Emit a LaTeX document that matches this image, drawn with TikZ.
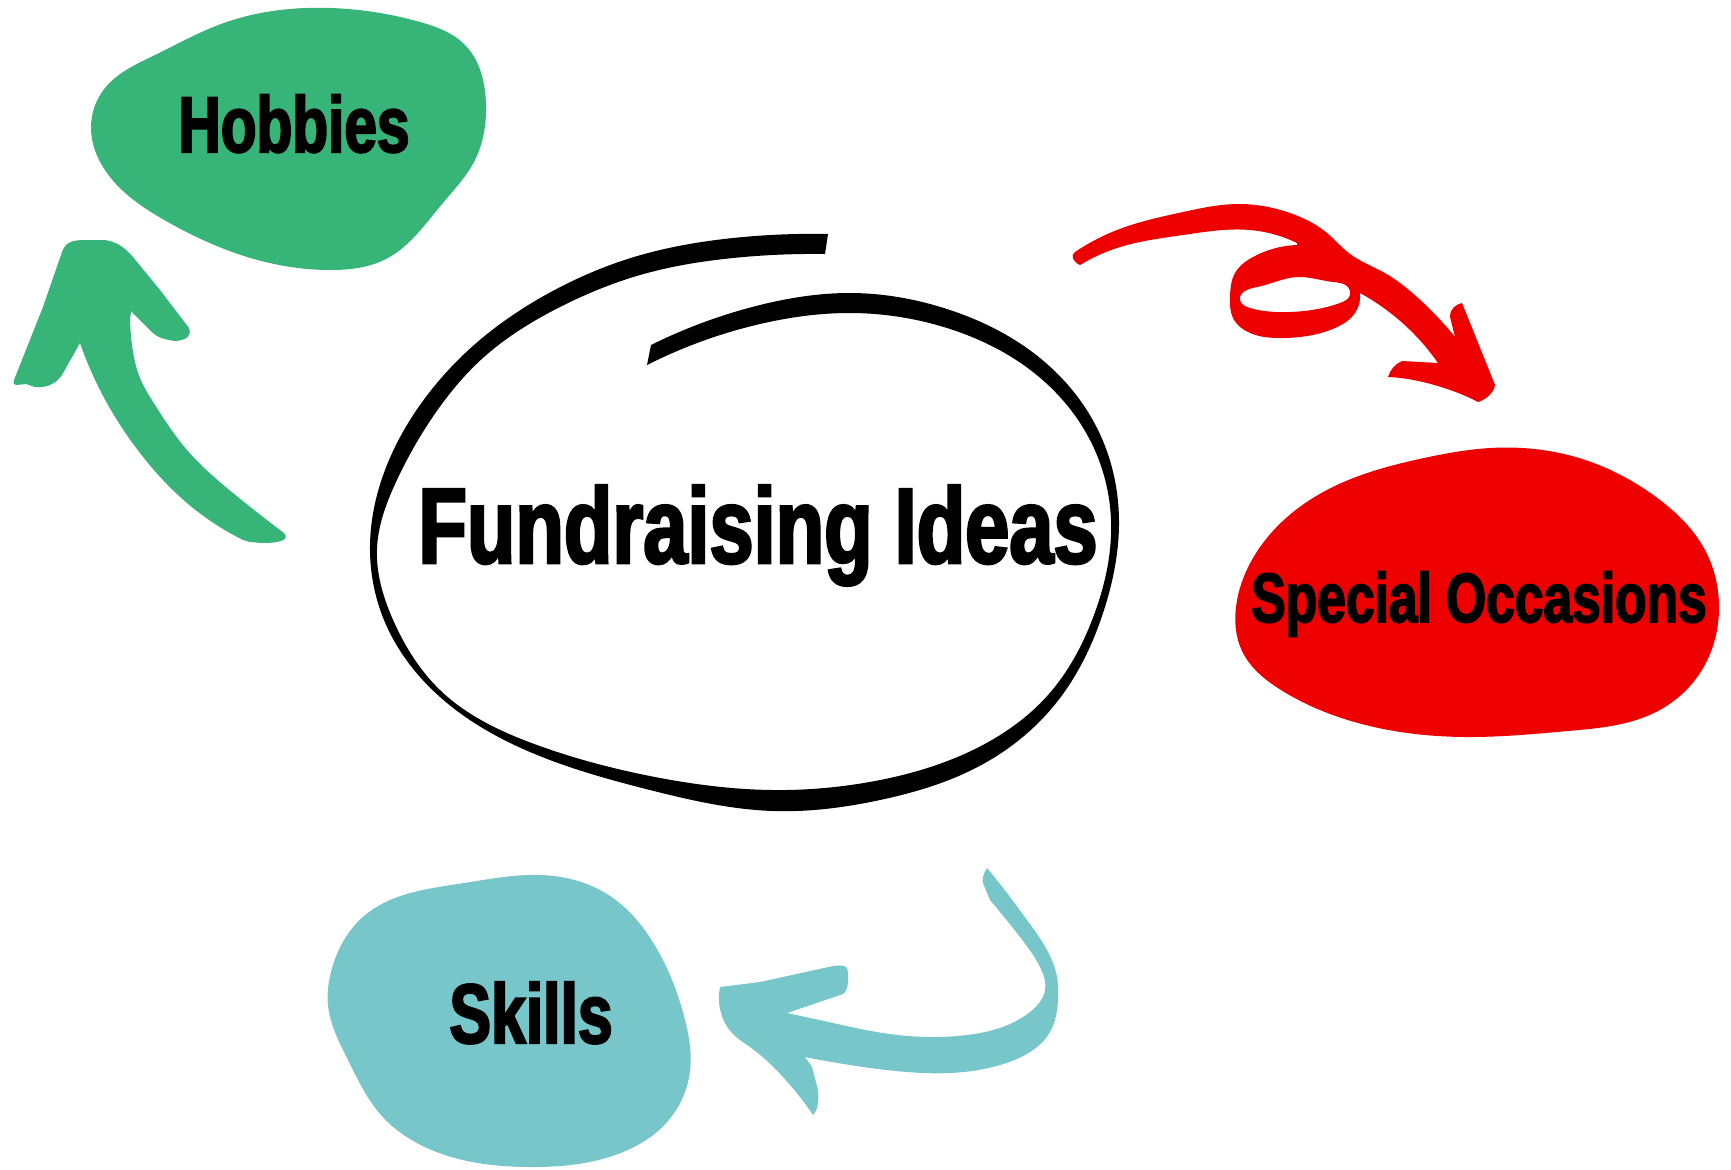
\documentclass[tikz,border=0pt]{standalone}
\usepackage{fontspec}
\usetikzlibrary{hobby}
\newfontfamily\blobfont[FakeStretch=0.74, FakeBold=2.5]{Liberation Sans}
\definecolor{hobbygreen}{RGB}{55,180,120}
\definecolor{occasionred}{RGB}{238,0,0}
\definecolor{skillteal}{RGB}{118,198,202}
\tikzset{blobtext/.style={anchor=base, inner sep=0pt, font=\blobfont\bfseries}}

\begin{document}
\begin{tikzpicture}[x=0.01cm, y=-0.01cm]
      \useasboundingbox (0,0) rectangle (1731,1169);
      % blobs
      \fill[hobbygreen] plot[closed hobby] coordinates {(331,8) (420,22) (464,44) (486,105) (475,160) (442,204) (386,259) (331,270) (254,259) (166,221) (110,177) (91,127) (105,88) (155,55) (221,24)};
      \fill[occasionred] plot[closed hobby] coordinates {(1325,491) (1424,458) (1490,448) (1579,458) (1656,497) (1706,552) (1719,607) (1700,673) (1656,712) (1568,731) (1468,737) (1358,723) (1281,690) (1242,651) (1236,607) (1253,558)};
      \fill[skillteal] plot[closed hobby] coordinates {(364,916) (464,883) (541,875) (607,894) (657,949) (684,1016) (690,1071) (668,1121) (618,1154) (530,1167) (442,1154) (381,1115) (348,1060) (328,1005) (331,972)};
      % hand drawn ring
      \fill[black] plot[hobby] coordinates {(651,345) (760,305) (850,293) (950,310) (1040,358) (1098,430) (1119,520) (1104,610) (1060,698) (985,763) (880,800) (773,811) (650,790) (530,752) (440,697) (384,620) (370,545) (385,470) (420,405) (474,345) (549,293) (634,257) (733,238) (828,234)}
        -- plot[hobby] coordinates {(825,254) (733,258) (640,275) (560,307) (484,357) (432,418) (396,482) (377,548) (394,622) (440,690) (537,745) (655,777) (773,790) (875,781) (975,749) (1048,695) (1094,615) (1111,520) (1090,440) (1033,372) (947,328) (850,313) (760,324) (647,365)} -- cycle;
      % arrows
      \fill[hobbygreen] (62,252) .. controls (66,240) and (75,240) .. (90,240) -- (105,240) .. controls (118,242) and (125,248) .. (133,257) -- (160,290) -- (189,328) .. controls (192,334) and (188,340) .. (176,341) .. controls (165,340) and (157,337) .. (153,333) -- (131,311)
        -- plot[hobby] coordinates {(130,320) (132,345) (140,378) (155,405) (187,450) (233,493) (284,533)} .. controls (290,540) and (280,543) .. (262,543) -- (250,542)
        -- plot[hobby] coordinates {(243,540) (187,503) (140,453) (100,390) (80,343)} -- (62,375) .. controls (55,385) and (45,388) .. (35,387) -- (26,384) -- (16,385) .. controls (13,384) and (13,382) .. (14,380) -- (43,307) -- cycle;
      \fill[occasionred, even odd rule] plot[hobby] coordinates {(1075,252) (1117,230) (1183,212) (1237,204) (1290,213) (1327,233) (1350,254) (1383,272) (1417,297) (1455,337)}
        -- (1450,317) .. controls (1449,310) and (1456,304) .. (1462,303) -- (1495,385) .. controls (1494,393) and (1485,400) .. (1478,402) .. controls (1460,392) and (1420,378) .. (1388,377) .. controls (1390,370) and (1395,364) .. (1402,361) -- (1438,363)
        -- plot[hobby] coordinates {(1438,363) (1410,330) (1360,293)}
        -- plot[hobby] coordinates {(1360,293) (1355,313) (1335,328) (1283,338) (1250,333) (1233,318) (1230,297) (1235,273) (1253,257) (1297,245)}
        -- plot[hobby] coordinates {(1297,243) (1250,230) (1183,235) (1117,248) (1080,265)} .. controls (1073,262) and (1070,255) .. (1075,252) -- cycle
        plot[closed hobby] coordinates {(1240,300) (1257,287) (1297,277) (1333,282) (1348,287) (1350,295) (1340,303) (1290,312) (1250,308)};
      \fill[skillteal] (987,868) .. controls (983,874) and (982,880) .. (983,883) -- (990,900)
        -- plot[hobby] coordinates {(990,900) (1020,937) (1040,967) (1045,990) (1030,1012) (967,1035) (933,1037) (883,1033) (833,1023) (787,1013)}
        -- (843,994) .. controls (849,990) and (849,975) .. (847,968) .. controls (845,965) and (838,965) .. (833,966) -- (760,982) -- (720,987)
        -- plot[hobby] coordinates {(720,987) (721,1013) (732,1033) (750,1047) (783,1077) (800,1097) (813,1115)} .. controls (818,1110) and (819,1100) .. (818,1090) -- (812,1067) -- (805,1057)
        -- plot[hobby] coordinates {(805,1057) (850,1065) (907,1072) (950,1073) (1000,1065) (1033,1050) (1050,1032) (1058,1000) (1057,977) (1047,950) (1027,920) (1007,893) (987,868)} -- cycle;
      % labels
      \node[blobtext] (fundraising) at (758,563) {\fontsize{30.5pt}{31pt}\selectfont Fundraising Ideas};
      \node[blobtext] (hobbies) at (294,152) {\fontsize{22.5pt}{23pt}\selectfont Hobbies};
      \node[blobtext] (special) at (1479,622) {\fontsize{19.8pt}{20pt}\selectfont Special Occasions};
      \node[blobtext] (skills) at (531,1043) {\fontsize{24pt}{25pt}\selectfont Skills};
\end{tikzpicture}
\end{document}
